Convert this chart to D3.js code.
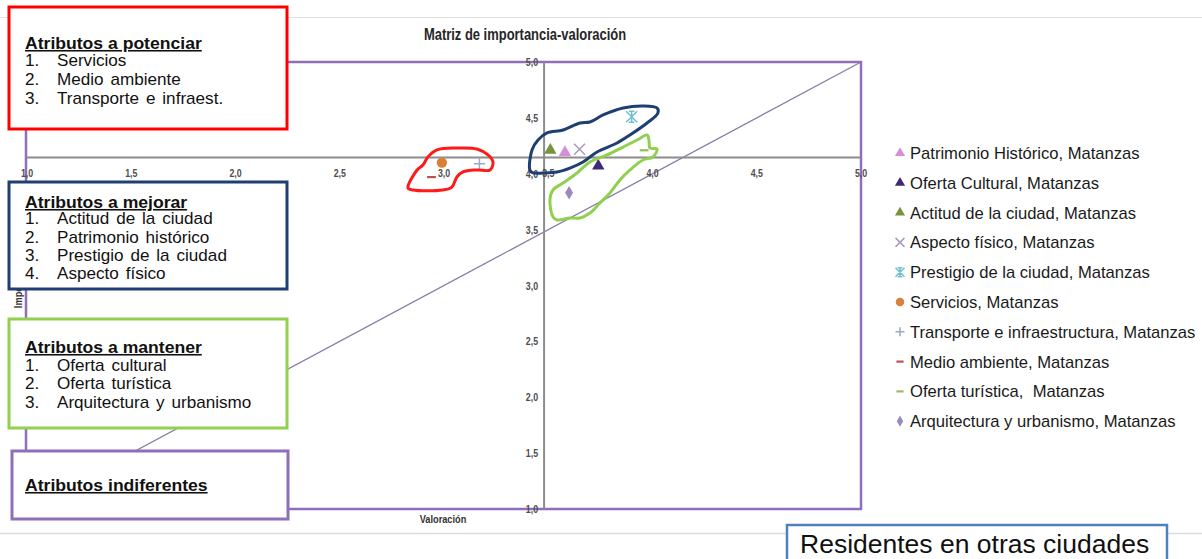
<!DOCTYPE html>
<html>
<head>
<meta charset="utf-8">
<script src="https://cdn.jsdelivr.net/npm/d3@7"></script>
<style>
  body { margin: 0; background: #fff; }
  svg { display: block; }
  text { font-family: "Liberation Sans", Arial, sans-serif; }
</style>
</head>
<body>
<script>
// data
var attributes = ['Patrimonio Histórico', 'Oferta Cultural', 'Actitud de la ciudad', 'Aspecto físico',
  'Prestigio de la ciudad', 'Servicios', 'Transporte e infraestructura', 'Medio ambiente',
  'Oferta turística', 'Arquitectura y urbanismo']
var legendLabels = ['Patrimonio Histórico, Matanzas', 'Oferta Cultural, Matanzas', 'Actitud de la ciudad, Matanzas',
  'Aspecto físico, Matanzas', 'Prestigio de la ciudad, Matanzas', 'Servicios, Matanzas',
  'Transporte e infraestructura, Matanzas', 'Medio ambiente, Matanzas', 'Oferta turística,  Matanzas',
  'Arquitectura y urbanismo, Matanzas']
var valoracion = [3.58, 3.74, 3.51, 3.65, 3.90, 2.99, 3.17, 2.94, 3.96, 3.60]
var importancia = [4.19, 4.07, 4.21, 4.22, 4.51, 4.10, 4.09, 3.97, 4.21, 3.83]
var ticks = [1.0, 1.5, 2.0, 2.5, 3.0, 3.5, 4.0, 4.5, 5.0]
var crossValoracion = 3.48
var crossImportancia = 4.145

var shapes = ['triangle', 'triangle', 'triangle', 'x', 'star', 'circle', 'plus', 'dash', 'dash', 'diamond']
var colors = ['#d58fd9', '#3f2a78', '#77933c', '#a99bbd', '#6fbfcf', '#d9813a', '#9aa9c9', '#c0504d', '#9bbb59', '#9b8bbd']

// hand drawn groupings (valoracion, importancia)
var redBlob = [[2.827, 3.872], [2.871, 4.034], [2.899, 4.078], [2.923, 4.150], [2.966, 4.213], [3.062, 4.230],
  [3.158, 4.221], [3.211, 4.168], [3.235, 4.105], [3.221, 4.034], [3.158, 4.034], [3.091, 4.016],
  [3.062, 3.971], [3.038, 3.881], [2.995, 3.855], [2.85, 3.855]]
var blueBlob = [[3.412, 4.034], [3.422, 4.213], [3.451, 4.302], [3.494, 4.365], [3.571, 4.391], [3.652, 4.454],
  [3.700, 4.463], [3.763, 4.526], [3.859, 4.588], [3.954, 4.606], [4.022, 4.588], [4.026, 4.544],
  [3.974, 4.454], [3.892, 4.347], [3.830, 4.275], [3.734, 4.195], [3.667, 4.105], [3.604, 4.051],
  [3.542, 4.016], [3.475, 4.007], [3.427, 4.007]]
var greenBlob = [[3.523, 3.613], [3.508, 3.765], [3.523, 3.855], [3.571, 3.917], [3.638, 4.007], [3.700, 4.105],
  [3.782, 4.168], [3.859, 4.239], [3.926, 4.302], [3.974, 4.347], [3.983, 4.302], [3.988, 4.230],
  [4.022, 4.221], [4.002, 4.150], [3.954, 4.123], [3.892, 4.034], [3.844, 3.944], [3.796, 3.828],
  [3.748, 3.738], [3.700, 3.649], [3.652, 3.604], [3.604, 3.604], [3.542, 3.586]]

var boxes = [
  { title: 'Atributos a potenciar', items: ['Servicios', 'Medio ambiente', 'Transporte e infraest.'] },
  { title: 'Atributos a mejorar', items: ['Actitud de la ciudad', 'Patrimonio histórico', 'Prestigio de la ciudad', 'Aspecto físico'] },
  { title: 'Atributos a mantener', items: ['Oferta cultural', 'Oferta turística', 'Arquitectura y urbanismo'] },
  { title: 'Atributos indiferentes', items: [] }
]

var width = 1202
var height = 559
var fmt = function (d) { return d3.format('.1f')(d).replace('.', ',') }

var svg = d3.select('body').append('svg')
  .attr('width', width)
  .attr('height', height)

var x = d3.scaleLinear().domain([1, 5]).range([27, 861])
var y = d3.scaleLinear().domain([1, 5]).range([509, 62])

// frame of the pasted chart
svg.append('line').attr('x1', 0).attr('x2', width).attr('y1', 17.5).attr('y2', 17.5)
  .style('stroke', '#e2e2e2').style('stroke-width', 1)
svg.append('line').attr('x1', 0).attr('x2', width).attr('y1', 533.5).attr('y2', 533.5)
  .style('stroke', '#dcdcdc').style('stroke-width', 1.5)

function stretchText (g, tx, ty, sx, str) {
  return g.append('text')
    .attr('transform', 'translate(' + tx + ',' + ty + ') scale(' + sx + ',1)')
    .text(str)
}

stretchText(svg, 525, 40, 0.81, 'Matriz de importancia-valoración')
  .attr('text-anchor', 'middle')
  .style('font-size', '16px')
  .style('font-weight', 'bold')
  .style('fill', '#262626')

var plot = svg.append('g')

// diagonal
plot.append('line')
  .attr('x1', x(1)).attr('y1', y(1)).attr('x2', x(5)).attr('y2', y(5))
  .style('stroke', '#8a7cab').style('stroke-width', 1.3)

// plot border
plot.append('rect')
  .attr('x', x(1) - 1).attr('y', y(5))
  .attr('width', x(5) - x(1) + 1).attr('height', y(1) - y(5))
  .style('fill', 'none').style('stroke', '#8f6fb8').style('stroke-width', 2.5)

// axes crossing in the middle
plot.append('line')
  .attr('x1', x(1)).attr('x2', x(5)).attr('y1', y(crossImportancia)).attr('y2', y(crossImportancia))
  .style('stroke', '#8c8c8c').style('stroke-width', 2)
plot.append('line')
  .attr('x1', x(crossValoracion)).attr('x2', x(crossValoracion)).attr('y1', y(5)).attr('y2', y(1))
  .style('stroke', '#8c8c8c').style('stroke-width', 2)

var tickG = plot.append('g')
  .style('font-size', '11px')
  .style('font-weight', 'bold')
  .style('fill', '#4d4d4d')
ticks.forEach(function (t) {
  stretchText(tickG, x(t), y(crossImportancia) + 19, 0.8, fmt(t)).attr('text-anchor', 'middle')
  stretchText(tickG, x(crossValoracion) - 6, y(t) + 4, 0.8, fmt(t)).attr('text-anchor', 'end')
})

stretchText(plot, 443, 523, 0.84, 'Valoración')
  .attr('text-anchor', 'middle')
  .style('font-size', '11px').style('font-weight', 'bold').style('fill', '#333')
plot.append('text')
  .attr('transform', 'translate(22,282) rotate(-90) scale(0.84,1)')
  .attr('text-anchor', 'middle')
  .style('font-size', '11px').style('font-weight', 'bold').style('fill', '#333')
  .text('Importancia')

// markers
function drawMarker (g, shape, color, s) {
  if (shape === 'triangle') {
    g.append('path').attr('d', d3.symbol(d3.symbolTriangle, s * s * 0.55)()).style('fill', color)
  } else if (shape === 'circle') {
    g.append('path').attr('d', d3.symbol(d3.symbolCircle, s * s * 0.7)()).style('fill', color)
  } else if (shape === 'diamond') {
    g.append('path').attr('d', d3.symbol(d3.symbolDiamond, s * s * 0.45)()).style('fill', color)
  } else {
    var h = s / 2
    var p = d3.path()
    if (shape === 'x' || shape === 'star') {
      p.moveTo(-h, -h); p.lineTo(h, h); p.moveTo(h, -h); p.lineTo(-h, h)
    }
    if (shape === 'star') {
      p.moveTo(0, -h); p.lineTo(0, h)
      p.moveTo(-h * 0.5, -h); p.lineTo(h * 0.5, -h); p.moveTo(-h * 0.5, h); p.lineTo(h * 0.5, h)
    }
    if (shape === 'plus') {
      p.moveTo(-h, 0); p.lineTo(h, 0); p.moveTo(0, -h); p.lineTo(0, h)
    }
    if (shape === 'dash') {
      p.moveTo(-h * 0.8, 0); p.lineTo(h * 0.8, 0)
    }
    g.append('path').attr('d', p.toString())
      .style('fill', 'none').style('stroke', color).style('stroke-width', shape === 'dash' ? 2.2 : 1.5)
  }
}

attributes.forEach(function (a, i) {
  var g = plot.append('g')
    .attr('class', 'point')
    .attr('transform', 'translate(' + x(valoracion[i]) + ',' + y(importancia[i]) + ')')
  drawMarker(g, shapes[i], colors[i], 11)
})

// hand drawn contours
var blobLine = d3.line()
  .x(function (d) { return x(d[0]) })
  .y(function (d) { return y(d[1]) })
  .curve(d3.curveCatmullRomClosed.alpha(0.5))
var blobs = [[redBlob, '#ff1a1a'], [blueBlob, '#1f3f73'], [greenBlob, '#8fd14f']]
blobs.forEach(function (b) {
  plot.append('path')
    .attr('d', blobLine(b[0]))
    .style('fill', 'none')
    .style('stroke', b[1])
    .style('stroke-width', 3)
    .style('stroke-linejoin', 'round')
})

// legend
var legend = svg.append('g').attr('transform', 'translate(900,153)')
legendLabels.forEach(function (l, i) {
  var row = legend.append('g').attr('transform', 'translate(0,' + (i * 29.8) + ')')
  drawMarker(row, shapes[i], colors[i], 9)
  row.append('text')
    .attr('x', 10).attr('y', 6)
    .style('font-size', '16.6px').style('fill', '#1a1a1a')
    .style('white-space', 'pre')
    .text(l)
})

// annotation boxes
var boxFrames = [
  { x: 9, y: 7, w: 278, h: 122, stroke: '#ff0000', head: 43, rows: [60, 79, 98] },
  { x: 9, y: 182, w: 278, h: 107, stroke: '#1f3f73', head: 202, rows: [218, 237, 255, 273] },
  { x: 9, y: 319, w: 278, h: 109, stroke: '#92d050', head: 347, rows: [365, 383, 402] },
  { x: 12, y: 451, w: 276, h: 68, stroke: '#8f6fb8', head: 485, rows: [] }
]
boxes.forEach(function (b, i) {
  var f = boxFrames[i]
  var g = svg.append('g')
  g.append('rect')
    .attr('x', f.x).attr('y', f.y).attr('width', f.w).attr('height', f.h)
    .style('fill', '#fff').style('stroke', f.stroke).style('stroke-width', 3)
  stretchText(g, 25, f.head + 6, 1.1, b.title)
    .style('font-size', '16px').style('font-weight', 'bold')
    .style('text-decoration', 'underline').style('fill', '#111')
  b.items.forEach(function (it, j) {
    stretchText(g, 25, f.rows[j] + 6, 1.07, (j + 1) + '.')
      .style('font-size', '16px').style('fill', '#111')
    stretchText(g, 57, f.rows[j] + 6, 1.07, it)
      .style('font-size', '16px').style('fill', '#111').style('word-spacing', '2px')
  })
})

// caption box at the bottom
svg.append('rect')
  .attr('x', 787).attr('y', 525).attr('width', 380).attr('height', 50)
  .style('fill', '#fff').style('stroke', '#4f81bd').style('stroke-width', 2.5)
svg.append('text')
  .attr('x', 800).attr('y', 553)
  .style('font-size', '26.5px').style('fill', '#111')
  .text('Residentes en otras ciudades')
</script>
</body>
</html>
